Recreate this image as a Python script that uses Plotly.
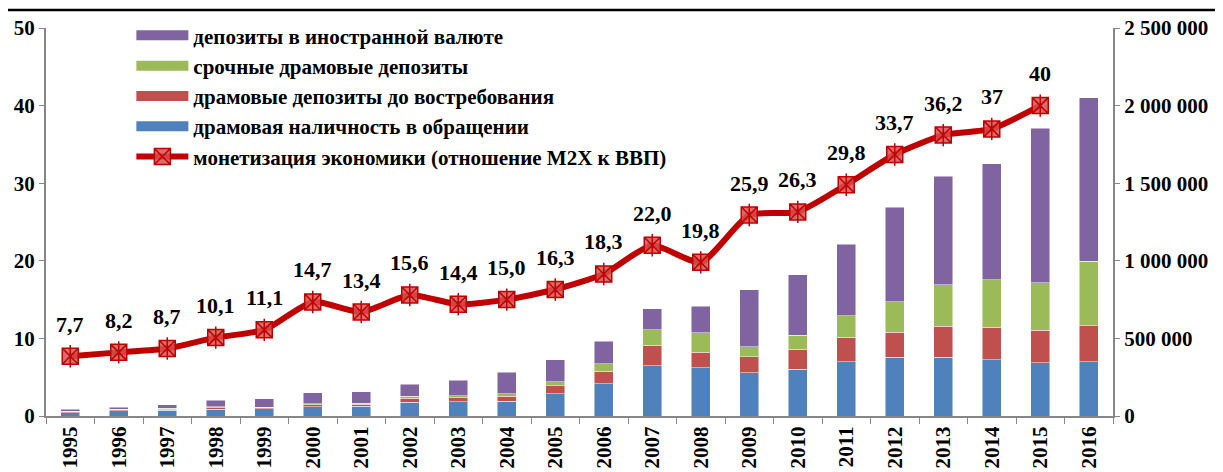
import plotly.graph_objects as go

years = [str(y) for y in range(1995, 2017)]

# dram cash in circulation, dram demand deposits, dram term deposits, FX deposits (mln dram)
cash = [22000, 33000, 38000, 44000, 46000, 60000, 63000, 89000, 91000, 95000, 143000,
        207000, 323000, 311000, 278000, 302000, 349000, 379000, 379000, 362000, 343000, 349000]
demand = [6000, 6000, 6000, 10000, 8000, 12000, 13000, 24000, 28000, 32000, 53000,
          81000, 133000, 101000, 105000, 127000, 157000, 161000, 200000, 210000, 210000, 234000]
term = [4000, 4000, 5000, 6000, 4000, 7000, 6000, 13000, 11000, 17000, 24000,
        50000, 101000, 125000, 64000, 90000, 140000, 196000, 267000, 307000, 305000, 414000]
fx = [10000, 12000, 23000, 40000, 53000, 71000, 73000, 77000, 101000, 137000, 142000,
      144000, 133000, 171000, 365000, 391000, 461000, 608000, 700000, 745000, 996000, 1053000]

# monetization M2X / GDP, %
m2x = [7.7, 8.2, 8.7, 10.1, 11.1, 14.7, 13.4, 15.6, 14.4, 15.0, 16.3,
       18.3, 22.0, 19.8, 25.9, 26.3, 29.8, 33.7, 36.2, 37, 40, None]
m2x_labels = ["7,7", "8,2", "8,7", "10,1", "11,1", "14,7", "13,4", "15,6", "14,4", "15,0", "16,3",
              "18,3", "22,0", "19,8", "25,9", "26,3", "29,8", "33,7", "36,2", "37", "40", ""]

FONT = "Liberation Serif, Times New Roman, serif"
bar_line = dict(color="rgba(255,255,255,0.6)", width=0.8)

series = [
    (cash, "драмовая наличность в обращении", "#4F81BD", 4),
    (demand, "драмовые депозиты до востребования", "#C0504D", 3),
    (term, "срочные драмовые депозиты", "#9BBB59", 2),
    (fx, "депозиты в иностранной валюте", "#8064A2", 1),
]

fig = go.Figure()
for vals, name, col, rank in series:
    fig.add_trace(go.Bar(x=years, y=vals, name=name, showlegend=False,
                         marker=dict(color=col, line=bar_line), yaxis="y2"))
    # legend proxy: a thick short line looks like the wide Excel legend box
    fig.add_trace(go.Scatter(x=[None], y=[None], mode="lines", name=name,
                             line=dict(color=col, width=10), legendrank=rank))

fig.add_trace(go.Scatter(
    x=years, y=m2x, name="монетизация экономики (отношение M2X к ВВП)",
    mode="lines+markers", line=dict(color="#C00000", width=6, shape="spline", smoothing=0.6),
    marker=dict(symbol="square-x", size=16, color="rgba(215,80,80,0.85)",
                line=dict(color="#C00000", width=1.5)),
    legendrank=5))
fig.add_trace(go.Scatter(
    x=years, y=m2x, mode="markers", showlegend=False, hoverinfo="skip",
    marker=dict(symbol="line-ns-open", size=16, color="#C00000",
                line=dict(color="#C00000", width=1.5))))

for i, (v, t) in enumerate(zip(m2x, m2x_labels)):
    if v is None:
        continue
    fig.add_annotation(x=i, y=v, text=t, showarrow=False, yshift=32,
                       font=dict(family=FONT, size=22, color="black", weight="bold"))

# the page body has an 8px margin, so the figure is made 8px smaller
W, H = 1215, 464
axis_col = "#868686"
fig.update_layout(
    width=W, height=H,
    margin=dict(l=38, r=110, t=20, b=56, autoexpand=False),
    paper_bgcolor="white", plot_bgcolor="white",
    barmode="stack", bargap=0.6,
    separators=", ",
    font=dict(family=FONT, size=21, color="black", weight="bold"),
    showlegend=True,
    legend=dict(x=0.08, y=1.033, xanchor="left", yanchor="top",
                traceorder="normal", itemwidth=52,
                font=dict(family=FONT, size=21, color="black", weight="bold"),
                bgcolor="rgba(0,0,0,0)"),
    xaxis=dict(type="category", range=[-0.5, 21.5], tickangle=-90, showline=True,
               linecolor=axis_col, linewidth=2,
               ticks="outside", tickson="boundaries", ticklen=6, tickcolor=axis_col,
               tickfont=dict(family=FONT, size=21, weight="bold"), showgrid=False),
    yaxis=dict(range=[0, 50], dtick=10, showline=True, linecolor=axis_col, linewidth=2,
               ticks="outside", ticklen=5, tickcolor=axis_col, showgrid=False, zeroline=False,
               tickfont=dict(family=FONT, size=21, weight="bold")),
    yaxis2=dict(range=[0, 2500000], dtick=500000, overlaying="y", side="right",
                showline=True, linecolor=axis_col, linewidth=2, ticks="outside", ticklen=5,
                tickcolor=axis_col, showgrid=False, zeroline=False, tickformat=",d",
                tickfont=dict(family=FONT, size=21, weight="bold")),
)

# frame line across the top of the picture
fig.add_shape(type="line", xref="paper", yref="paper", layer="above",
              x0=-38 / 1067, x1=(W - 38) / 1067, y0=406 / 388, y1=406 / 388,
              line=dict(color="black", width=2.5))

fig.write_html("out.html")
